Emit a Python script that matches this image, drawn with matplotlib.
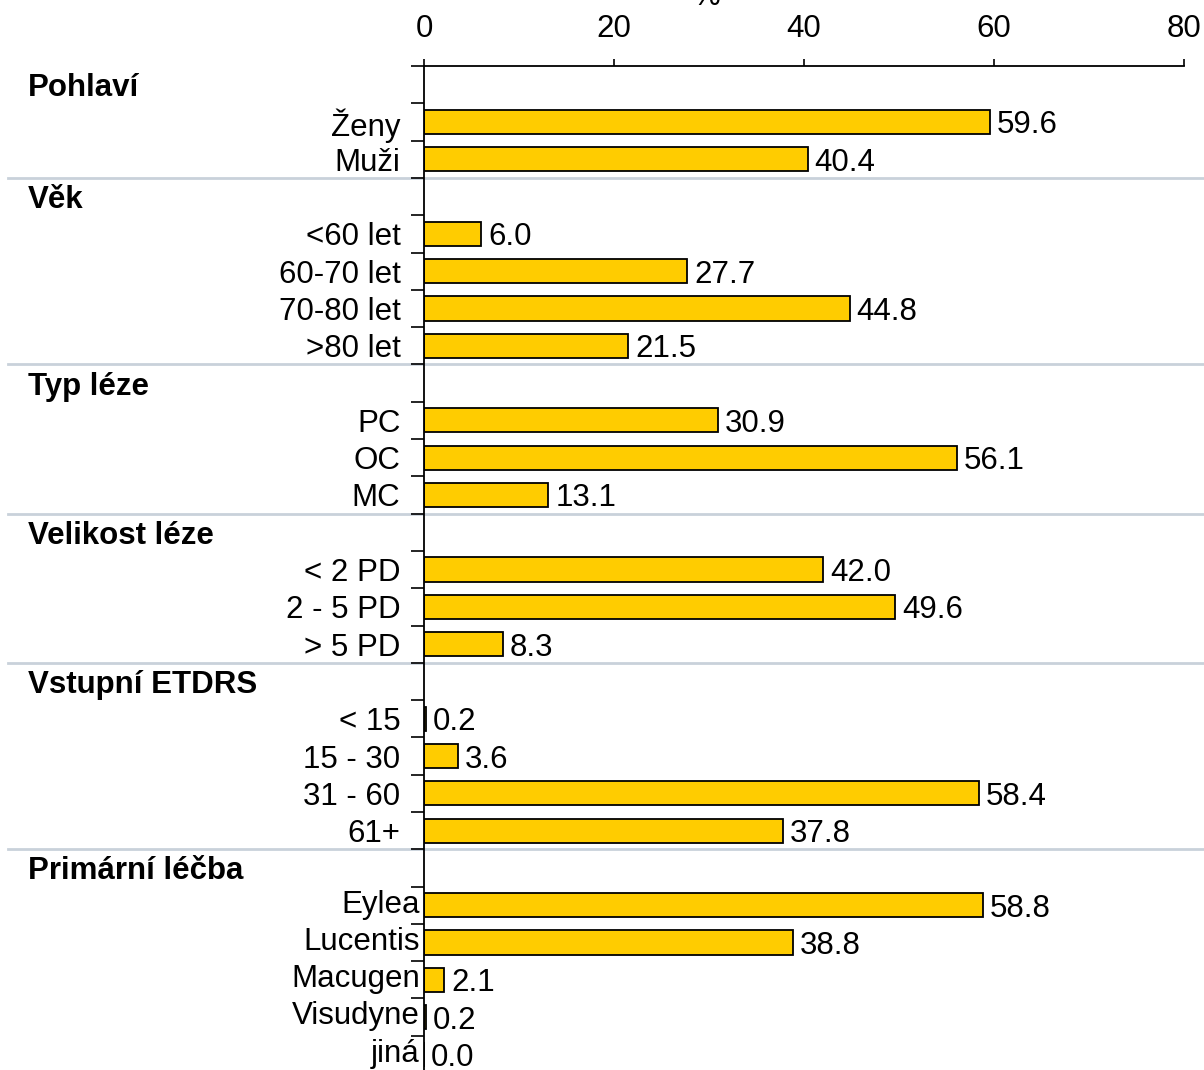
import numpy as np
import matplotlib.pyplot as plt
from matplotlib.transforms import blended_transform_factory

plt.rcParams['font.family'] = ['Liberation Sans', 'DejaVu Sans']

# data (%)
groups = ['Pohlaví', 'Věk', 'Typ léze', 'Velikost léze', 'Vstupní ETDRS', 'Primární léčba']

pohlavi_labels = ['Ženy', 'Muži']
pohlavi_values = [59.6, 40.4]

vek_labels = ['<60 let', '60-70 let', '70-80 let', '>80 let']
vek_values = [6.0, 27.7, 44.8, 21.5]

typ_labels = ['PC', 'OC', 'MC']
typ_values = [30.9, 56.1, 13.1]

velikost_labels = ['< 2 PD', '2 - 5 PD', '> 5 PD']
velikost_values = [42.0, 49.6, 8.3]

etdrs_labels = ['< 15', '15 - 30', '31 - 60', '61+']
etdrs_values = [0.2, 3.6, 58.4, 37.8]

lecba_labels = ['Eylea', 'Lucentis', 'Macugen', 'Visudyne', 'jiná']
lecba_values = [58.8, 38.8, 2.1, 0.2, 0.0]

xticks = [0, 20, 40, 60, 80]

group_labels = [pohlavi_labels, vek_labels, typ_labels, velikost_labels, etdrs_labels, lecba_labels]
group_values = [pohlavi_values, vek_values, typ_values, velikost_values, etdrs_values, lecba_values]

W, H = 1204, 1070
row_px = 37.3
n_rows = sum(1 + len(l) for l in group_labels)

fig = plt.figure(figsize=(W / 100, H / 100), dpi=100)
ax_left, ax_right, ax_top = 424, 1184, 66
ax = fig.add_axes([ax_left / W, 1 - (ax_top + n_rows * row_px) / H,
                   (ax_right - ax_left) / W, n_rows * row_px / H])
ax.set_xlim(0, 80)
ax.set_ylim(n_rows, 0)

fs = 22.5
bar_color = '#FFCC00'
sep_color = '#C9D1DA'
trans = blended_transform_factory(fig.transFigure, ax.transData)

row = 0
for gi, (name, labels, values) in enumerate(zip(groups, group_labels, group_values)):
    # header row
    ax.text(28 / W, row + 0.5, name, transform=trans, fontsize=fs, fontweight='bold',
            ha='left', va='center_baseline', clip_on=False)
    row += 1
    ys = np.arange(len(labels)) + row + 0.5
    ax.barh(ys, values, height=0.65, color=bar_color, edgecolor='black', linewidth=1.3, zorder=1)
    for lbl, v, y in zip(labels, values, ys):
        ax.annotate(f'{v:.1f}', xy=(v, y), xytext=(5, 0), textcoords='offset points',
                    fontsize=fs, ha='left', va='center_baseline')
        if gi == len(groups) - 1:
            off = (-3, 3)
        else:
            off = (-17, 0)
        ax.annotate(lbl, xy=(0, y), xytext=off, textcoords='offset points',
                    fontsize=fs, ha='right', va='center_baseline', annotation_clip=False)
    row += len(labels)
    if gi < len(groups) - 1:
        ax.plot([8 / W, 1], [row, row], transform=trans, color=sep_color, lw=2,
                clip_on=False, zorder=0)

# "%" axis title, mostly cut off at the top edge as in the original
ax.text(29.8, 1 - 5 / H, '%', transform=blended_transform_factory(ax.transData, fig.transFigure),
        fontsize=fs, ha='center', va='baseline', clip_on=False)

ax.xaxis.tick_top()
ax.set_xticks(xticks)
ax.set_xticklabels([str(t) for t in xticks], fontsize=fs)
ax.tick_params(axis='x', direction='out', length=5, width=1.2, pad=11)
ax.set_yticks(np.arange(0, n_rows + 1))
ax.set_yticklabels([])
ax.tick_params(axis='y', direction='out', length=9.5, width=1.2)

for s in ['right', 'bottom']:
    ax.spines[s].set_visible(False)
for s in ['top', 'left']:
    ax.spines[s].set_linewidth(1.3)
    ax.spines[s].set_zorder(3)

fig.savefig('out.png', dpi=100)
